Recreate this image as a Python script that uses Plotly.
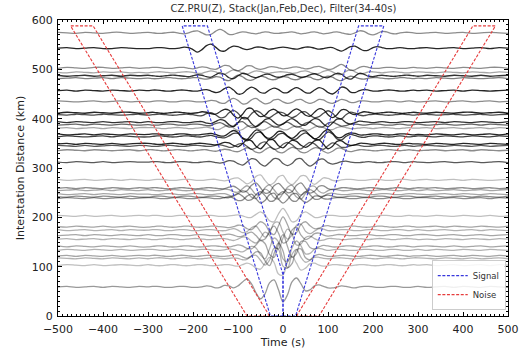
import plotly.graph_objects as go

# ---------------- data ----------------
t_left = list(range(-500, -300, 20))
t_mid = list(range(-300, 301, 10))
t_right = list(range(320, 501, 20))
times = t_left + t_mid + t_right

distances = [574, 543, 503, 494, 487, 482, 457, 435, 412, 408, 393, 388, 381, 368, 364, 349, 345, 336,
             312, 276, 259, 255, 247, 242, 239, 203, 181, 174, 164, 156, 141, 134, 122, 117, 103, 59]

w574 = [1,0,-1,1,0,-1,1,1,-1,0,
        1,0,-1,-1,0,1,1,-1,-2,0, 3,4,0,-4,-3,3,7,3,-3,-3, 0,2,1,-1,-2,0,2,1,-1,-1,
        0,
        1,2,0,-2,-1,1,2,0,-2,-1, 1,2,0,-2,-3,0,4,3,-2,-4, -1,3,2,-1,-2,0,1,1,0,-1,
        0,1,-1,0,1,-1,0,1,0,-1]
w543 = [0,1,-1,0,1,-1,-1,1,0,-1,
        -1,0,1,1,0,-1,-1,0,2,1, -3,-8,-3,5,8,2,-5,-6,0,4, 3,-1,-3,-1,2,2,0,-2,-1,1,
        2,
        1,-1,-2,0,2,2,0,-2,-1,1, 1,-3,-6,-2,3,4,-1,-5,-4,1, 3,1,-1,-1,0,1,0,-1,-1,0,
        1,-1,0,1,-1,0,1,-1,1,0]
w503 = [-1,1,0,-1,1,1,-1,0,1,-1,
        0,1,1,0,-1,-1,0,1,1,-1, -2,0,2,1,-2,-3,1,5,4,-3, -6,-2,4,4,-1,-3,-1,2,2,0,
        -2,
        -1,1,2,0,-2,-1,2,3,0,-3, -2,3,7,2,-5,-4,1,3,1,-1, -1,0,1,1,0,-1,-1,0,1,0,
        -1,1,0,-1,1,0,-1,1,1,-1]
w494 = [0,-1,1,0,-1,1,0,1,-1,0,
        -1,0,1,1,0,-1,-1,0,1,1, 0,-2,-2,1,3,1,-3,-4,1,5, 3,-2,-4,0,3,2,-1,-2,0,1,
        1,
        0,-2,-1,2,3,0,-3,-2,2,4, 1,-4,-4,2,5,1,-3,-2,1,1, 0,-1,0,1,1,0,-1,-1,0,1,
        0,-1,1,0,-1,1,0,-1,1,0]
w487 = [1,-1,0,1,-1,0,1,-1,1,0,
        1,0,-1,-1,0,1,1,0,-1,-2, 0,2,1,-2,-3,2,6,3,-4,-6, 0,5,3,-2,-4,-1,3,3,-1,-3,
        -1,
        2,3,0,-3,-2,2,4,1,-3,-4, 1,5,3,-4,-7,-1,5,3,-1,-2, 0,1,0,-1,-1,0,1,1,0,-1,
        1,0,-1,1,0,-1,1,-1,0,1]
w482 = [-1,0,1,-1,0,1,-1,1,0,-1,
        0,-1,-1,0,1,1,0,-1,-1,0, 1,1,-1,-2,0,3,2,-3,-5,1, 6,3,-3,-4,0,4,2,-2,-3,0,
        3,
        2,-2,-3,0,3,2,-2,-3,1,4, 2,-3,-5,0,4,2,-1,-2,0,1, 1,0,-1,-1,0,1,1,0,-1,0,
        -1,1,0,-1,1,0,-1,0,1,-1]
w457 = [0,1,-1,1,0,-1,1,0,-1,1,
        0,1,1,0,-1,-1,0,1,1,0, -1,-1,1,2,-1,-4,-2,4,7,1, -7,-6,2,7,3,-4,-5,1,5,2,
        -4,
        -4,2,6,2,-4,-5,1,6,3,-4, -7,-1,7,5,-3,-4,0,2,1,-1, -1,0,1,1,0,-1,-1,0,1,0,
        1,-1,0,1,-1,1,0,-1,0,1]
w435 = [1,0,-1,0,1,-1,0,1,-1,0,
        -1,0,1,1,0,-1,-1,0,1,1, 0,-1,-1,0,2,1,-3,-4,2,6, 2,-5,-4,3,6,0,-5,-3,3,4,
        -1,
        -4,-2,3,4,-1,-4,-1,4,3,-2, -4,0,4,2,-2,-2,1,1,0,-1, -1,0,1,1,0,-1,0,1,0,-1,
        0,1,-1,0,1,-1,0,1,-1,0]
w412 = [-1,1,0,-1,1,0,-1,1,1,-1,
        0,1,0,-1,-1,0,1,1,0,-1, -1,0,2,1,-2,-3,2,7,5,-5, -11,-3,8,9,-1,-8,-5,4,7,1,
        -6,
        -5,3,8,3,-5,-7,1,8,6,-4, -10,-4,6,6,-1,-4,-1,2,1,-1, -1,0,1,1,0,-1,-1,0,1,0,
        -1,1,0,-1,1,1,-1,0,1,-1]
w408 = [0,-1,1,0,-1,1,0,-1,0,1,
        -1,0,1,1,0,-1,-1,0,1,1, 0,-2,-2,2,4,0,-6,-5,4,9, 3,-7,-8,2,8,4,-4,-6,0,5,
        4,
        -2,-6,-2,5,6,-1,-6,-4,3,8, 3,-6,-8,0,5,3,-1,-2,0,1, 1,0,-1,-1,0,1,1,0,-1,0,
        1,-1,0,1,-1,0,1,-1,0,1]
w393 = [1,-1,1,0,-1,1,-1,0,1,-1,
        1,0,-1,-1,0,1,1,0,-1,-1, 0,1,1,-2,-3,1,5,3,-5,-9, -1,9,8,-3,-9,-4,5,7,0,-6,
        -4,
        3,7,2,-5,-6,1,7,5,-4,-9, -2,6,6,-1,-4,-1,2,1,0,-1, 0,1,0,-1,-1,0,1,1,0,-1,
        0,1,-1,1,0,-1,1,0,-1,1]
w388 = [-1,0,1,-1,1,0,-1,1,0,-1,
        0,-1,-1,0,1,1,0,-1,-1,0, 1,1,0,-2,-2,2,4,0,-5,-3, 4,6,-1,-6,-4,3,6,1,-5,-4,
        2,
        5,0,-5,-3,3,5,0,-5,-4,3, 5,1,-3,-2,1,1,0,-1,0,1, 1,0,-1,-1,0,1,0,-1,0,1,
        -1,0,1,-1,0,1,-1,1,0,-1]
w381 = [0,1,-1,0,1,-1,1,0,-1,1,
        1,1,0,-1,-1,0,1,1,0,-1, -1,0,1,2,0,-3,-2,3,5,0, -5,-3,3,5,0,-4,-3,2,4,1,
        -3,
        -3,2,4,0,-4,-3,2,4,1,-3, -3,1,3,1,-1,-1,0,1,0,-1, 0,1,1,0,-1,-1,0,1,0,0,
        1,-1,0,1,-1,0,1,-1,1,0]
w368 = [1,-1,0,1,-1,1,0,-1,1,0,
        0,1,1,0,-1,-1,0,1,1,0, -1,-1,0,1,2,0,-3,-3,3,8, 4,-7,-10,0,9,6,-4,-8,-2,6,
        5,
        -3,-8,-2,7,7,-2,-9,-5,5,10, 3,-6,-6,0,3,2,-1,-1,0,1, 1,0,-1,-1,0,1,1,0,-1,0,
        -1,1,0,-1,1,-1,0,1,-1,1]
w364 = [-1,1,0,-1,0,1,-1,1,0,-1,
        -1,0,1,1,0,-1,-1,0,1,1, 0,-1,-1,1,2,0,-2,-3,1,6, 6,-4,-9,-3,7,8,-1,-7,-4,4,
        6,
        0,-6,-5,3,7,2,-5,-7,1,9, 5,-5,-7,0,4,2,-1,-2,0,1, 1,0,-1,-1,0,1,0,-1,0,1,
        0,-1,1,0,-1,1,0,-1,1,0]
w349 = [0,1,-1,1,0,-1,1,-1,0,1,
        1,0,-1,-1,0,1,1,0,-1,-1, 0,1,1,0,-1,-2,0,3,2,-3, -6,0,8,6,-5,-10,-1,9,7,-4,
        -8,
        0,7,5,-3,-7,-2,6,8,-1,-10, -5,5,6,0,-3,-2,1,1,0,-1, 0,1,1,0,-1,-1,0,1,0,0,
        -1,1,0,-1,1,0,-1,1,0,-1]
w345 = [1,0,-1,1,-1,0,1,0,-1,1,
        0,-1,-1,0,1,1,0,-1,-1,0, 1,1,0,-1,-1,1,2,0,-3,-2, 3,5,-1,-7,-4,5,8,0,-7,-5,
        3,
        7,2,-5,-6,1,7,4,-4,-7,0, 6,3,-3,-3,0,2,1,-1,-1,0, 1,1,0,-1,-1,0,1,0,-1,0,
        1,0,-1,1,0,-1,1,-1,0,1]
w336 = [-1,1,0,-1,1,0,-1,0,1,-1,
        1,1,0,-1,-1,0,1,1,0,-1, -1,0,1,1,-1,-2,0,2,1,-2, -3,1,5,2,-4,-5,1,6,3,-4,
        -5,
        1,6,3,-4,-5,0,5,4,-2,-6, -2,4,4,-1,-3,-1,1,1,0,-1, -1,0,1,1,0,-1,0,1,0,-1,
        0,1,-1,0,1,-1,1,0,-1,0]
w312 = [0,-1,1,0,-1,1,-1,0,1,0,
        0,1,1,0,-1,-1,0,1,1,0, -1,-1,0,1,1,-1,-2,0,3,2, -3,-6,0,7,5,-4,-8,-1,7,6,
        -3,
        -7,-3,6,7,-2,-8,-3,5,6,-1, -4,-2,1,2,0,-1,-1,0,1,0, -1,-1,0,1,1,0,-1,0,1,0,
        -1,0,1,-1,0,1,-1,0,1,-1]
w276 = [1,-1,0,1,-1,0,1,-1,1,0,
        -1,0,1,1,0,-1,-1,0,1,1, 0,-1,-1,0,1,1,-1,-2,0,3, 4,-2,-8,-4,7,10,-1,-10,-6,6,
        9,
        -4,-10,-2,8,8,-3,-9,-3,4,3, -1,-2,0,1,1,0,-1,-1,0,1, 1,0,-1,-1,0,1,1,0,-1,0,
        1,-1,0,1,-1,1,0,-1,0,1]
w259 = [0,1,-1,1,0,-1,1,0,-1,1,
        0,1,1,0,-1,-1,0,1,1,0, -1,-1,0,1,1,0,-1,-1,2,4, -1,-8,-5,6,11,1,-10,-8,5,10,
        1,
        -9,-7,6,11,0,-10,-6,4,5,-1, -3,-1,1,1,0,-1,-1,0,1,1, 0,-1,-1,0,1,1,0,-1,0,1,
        0,1,-1,0,1,-1,0,1,-1,0]
w255 = [-1,0,1,-1,0,1,-1,1,0,-1,
        1,0,-1,-1,0,1,1,0,-1,-1, 0,1,1,0,-1,-1,0,2,1,-3, -4,3,9,2,-9,-8,5,11,1,-9,
        -6,
        6,10,-2,-10,-4,7,8,-2,-6,-1, 2,1,-1,-1,0,1,1,0,-1,-1, 0,1,1,0,-1,-1,0,1,0,-1,
        1,-1,0,1,-1,0,1,-1,0,1]
w247 = [1,-1,0,1,-1,1,0,-1,1,0,
        0,-1,-1,0,1,1,0,-1,-1,0, 1,1,0,-1,-1,0,1,1,-2,-4, 1,7,4,-6,-9,2,10,5,-7,-10,
        1,
        10,6,-6,-10,1,9,4,-4,-4,1, 2,0,-1,-1,0,1,1,0,-1,-1, 0,1,1,0,-1,-1,0,1,1,0,
        -1,0,1,-1,1,0,-1,1,0,-1]
w242 = [0,-1,1,0,-1,1,0,-1,1,-1,
        -1,0,1,1,0,-1,-1,0,1,1, 0,-1,-1,0,1,1,0,-2,-2,2, 6,1,-7,-6,4,10,2,-9,-8,4,
        10,
        3,-8,-9,2,10,4,-5,-5,1,3, 1,-1,-1,0,1,1,0,-1,-1,0, 1,1,0,-1,-1,0,1,1,0,-1,
        0,1,-1,0,1,-1,1,0,-1,1]
w239 = [-1,1,0,-1,1,-1,0,1,-1,0,
        1,1,0,-1,-1,0,1,1,0,-1, -1,0,1,1,0,-1,-1,1,3,0, -5,-4,4,8,-1,-10,-5,7,10,-2,
        -10,
        -3,8,9,-2,-9,-4,4,4,-1,-2, 0,1,1,0,-1,-1,0,1,1,0, -1,-1,0,1,1,0,-1,-1,0,1,
        1,-1,0,1,-1,0,1,-1,1,0]
w203 = [1,0,-1,1,-1,0,1,-1,0,1,
        0,1,1,0,-1,-1,0,1,1,0, -1,-1,0,1,1,0,-1,-1,0,1, 2,0,-3,-3,3,8,2,-10,-12,4,
        15,
        3,-12,-10,3,8,3,-3,-3,0,1, 1,0,-1,-1,0,1,1,0,-1,-1, 0,1,1,0,-1,-1,0,1,0,0,
        -1,1,0,-1,1,0,-1,1,-1,0]
w181 = [0,-1,1,0,-1,1,-1,0,1,-1,
        -1,0,1,1,0,-1,-1,0,1,1, 0,-1,-1,0,1,1,0,-1,-2,0, 3,2,-4,-6,2,10,5,-10,-16,2,
        20,
        4,-15,-12,5,10,2,-4,-3,1,2, 0,-1,-1,0,1,1,0,-1,-1,0, 1,1,0,-1,-1,0,1,1,0,-1,
        0,1,-1,1,0,-1,1,0,-1,1]
w174 = [1,-1,0,1,-1,0,1,-1,1,0,
        0,1,1,0,-1,-1,0,1,1,0, -1,-1,0,1,1,0,-1,-1,1,3, 0,-5,-3,5,8,-3,-14,-6,14,16,
        -4,
        -18,-10,10,12,-2,-7,-2,3,2,-1, -1,0,1,1,0,-1,-1,0,1,1, 0,-1,-1,0,1,1,0,-1,0,1,
        -1,0,1,-1,0,1,-1,1,0,-1]
w164 = [-1,0,1,-1,1,0,-1,1,0,-1,
        1,0,-1,-1,0,1,1,0,-1,-1, 0,1,1,0,-1,-1,0,1,2,0, -3,-2,3,6,-1,-10,-8,8,18,4,
        -16,
        -12,10,16,0,-9,-5,3,4,0,-2, -1,1,1,0,-1,-1,0,1,1,0, -1,-1,0,1,1,0,-1,-1,0,1,
        1,-1,0,1,-1,0,1,-1,0,1]
w156 = [0,1,-1,0,1,-1,1,0,-1,1,
        0,-1,-1,0,1,1,0,-1,-1,0, 1,1,0,-1,-1,0,1,1,-1,-3, 0,4,3,-4,-8,2,14,8,-14,-20,
        2,
        20,10,-12,-10,3,6,1,-3,-2,1, 1,0,-1,-1,0,1,1,0,-1,0, 1,1,0,-1,-1,0,1,1,0,-1,
        0,-1,1,0,-1,1,0,-1,1,0]
w141 = [1,-1,1,0,-1,1,0,-1,1,-1,
        -1,0,1,1,0,-1,-1,0,1,1, 0,-1,-1,0,1,1,0,-1,-1,1, 3,1,-4,-5,3,12,6,-16,-22,4,
        24,
        0,-22,-14,10,10,-2,-5,-1,2,1, -1,-1,0,1,1,0,-1,-1,0,1, 1,0,-1,-1,0,1,1,0,-1,0,
        1,0,-1,1,-1,0,1,-1,0,1]
w134 = [-1,1,0,-1,1,0,-1,1,-1,0,
        1,1,0,-1,-1,0,1,1,0,-1, -1,0,1,1,0,-1,-1,0,2,1, -2,-4,1,7,4,-10,-18,2,24,16,
        -18,
        -24,4,18,8,-8,-7,1,3,1,-1, 0,1,1,0,-1,-1,0,1,1,0, -1,-1,0,1,1,0,-1,-1,0,1,
        -1,1,0,-1,1,0,-1,1,0,-1]
w122 = [0,1,-1,1,0,-1,1,-1,0,1,
        0,1,1,0,-1,-1,0,1,1,0, -1,-1,0,1,1,0,-1,-1,0,2, 2,-2,-5,0,8,6,-10,-20,4,26,
        10,
        -24,-16,12,14,-4,-8,0,3,1,-1, -1,0,1,1,0,-1,-1,0,1,1, 0,-1,-1,0,1,1,0,-1,0,0,
        1,-1,0,1,-1,1,0,-1,1,0]
w117 = [1,0,-1,1,0,-1,1,0,-1,1,
        -1,0,1,1,0,-1,-1,0,1,1, 0,-1,-1,0,1,1,0,-1,0,1, 0,-3,-2,4,6,-4,-14,-4,20,18,
        -16,
        -20,8,18,2,-8,-4,2,2,0,-1, 0,1,1,0,-1,-1,0,1,0,-1, -1,0,1,1,0,-1,-1,0,1,1,
        0,-1,1,0,-1,1,-1,0,1,-1]
w103 = [-1,1,0,-1,1,-1,0,1,0,-1,
        1,0,-1,-1,0,1,1,0,-1,-1, 0,1,1,0,-1,-1,0,1,1,-1, -2,1,4,1,-6,-8,4,16,6,-18,
        -20,
        6,18,4,-10,-6,3,4,0,-2,-1, 1,1,0,-1,-1,0,1,1,0,-1, -1,0,1,1,0,-1,-1,0,1,0,
        1,-1,0,1,-1,0,1,-1,1,0]
w59 = [0,1,-1,0,1,-1,1,0,-1,1,
       0,1,1,0,-1,-1,0,1,1,0, -1,-1,0,2,1,-2,-1,3,2,-2, 2,10,16,6,-12,-24,-14,8,14,-6,
       -30,
       -16,10,18,6,-8,-6,2,4,1,-2, -2,0,2,1,-1,-2,0,1,1,0, -1,-1,0,1,1,0,-1,-1,0,1,
       -1,0,1,-1,1,0,-1,1,0,-1]

waveforms = [w574, w543, w503, w494, w487, w482, w457, w435, w412, w408, w393, w388, w381, w368,
             w364, w349, w345, w336, w312, w276, w259, w255, w247, w242, w239, w203, w181, w174,
             w164, w156, w141, w134, w122, w117, w103, w59]

# window parameters
win_top = 588          # km, top of the window polygons
sig_vel = 3.0          # km/s, signal group velocity
sig_half = 28          # s, half width of the signal window
noise_vel = 1.5        # km/s
noise_start = 30       # s, noise window start offset
noise_end = 80         # s, noise window end offset

# ---------------- styles ----------------
trace_alpha = [0.45, 0.85, 0.45, 0.35, 0.8, 0.5, 0.85, 0.45, 0.85, 0.7, 0.8, 0.6, 0.35, 0.85,
               0.75, 0.85, 0.65, 0.45, 0.65, 0.25, 0.45, 0.35, 0.35, 0.45, 0.45, 0.25, 0.35, 0.3,
               0.35, 0.3, 0.35, 0.3, 0.35, 0.3, 0.25, 0.4]

fig = go.Figure()

for d, w, a in zip(distances, waveforms, trace_alpha):
    if len(w) != len(times):
        raise ValueError(f"trace {d}: {len(w)} values")
    fig.add_trace(go.Scatter(
        x=times, y=[d + v for v in w], mode="lines",
        line=dict(color=f"rgba(0,0,0,{a})", width=1.3, shape="spline", smoothing=1.0),
        showlegend=False, hoverinfo="skip"))

# signal windows
kink = sig_vel * sig_half
sig_in = [0, 0, win_top / sig_vel - sig_half]
sig_d_in = [0, kink, win_top]
sig_out_top = win_top / sig_vel + sig_half
for side in (1, -1):
    xs = [side * v for v in sig_in] + [side * sig_out_top, side * sig_half, 0]
    ys = sig_d_in + [win_top, 0, 0]
    fig.add_trace(go.Scatter(
        x=xs, y=ys, mode="lines", name="Signal", legendgroup="sig", showlegend=(side == 1),
        line=dict(color="rgb(55,55,220)", width=1.1, dash="3px,1.6px"), hoverinfo="skip"))

for side in (1, -1):
    xs = [side * noise_start, side * (win_top / noise_vel + noise_start),
          side * (win_top / noise_vel + noise_end), side * noise_end, side * noise_start]
    ys = [0, win_top, win_top, 0, 0]
    fig.add_trace(go.Scatter(
        x=xs, y=ys, mode="lines", name="Noise", legendgroup="noise", showlegend=(side == 1),
        line=dict(color="rgb(230,60,60)", width=1.1, dash="3px,1.6px"), hoverinfo="skip"))

axis_common = dict(showline=True, linecolor="black", linewidth=1, mirror="allticks",
                   ticks="inside", ticklen=4, tickcolor="black", showgrid=False, zeroline=False,
                   automargin=False, tickfont=dict(size=11, color="#222"),
                   minor=dict(ticks="inside", ticklen=2, tickcolor="black", dtick=10, showgrid=False))

fig.update_layout(
    width=520, height=355,
    margin=dict(l=58, r=12, t=20, b=39),
    paper_bgcolor="white", plot_bgcolor="white",
    font=dict(family="DejaVu Sans", size=11, color="#222"),
    title=dict(text="CZ.PRU(Z), Stack(Jan,Feb,Dec), Filter(34-40s)", x=0.545, xanchor="center",
               y=0.985, yanchor="top", font=dict(size=10, color="#333")),
    xaxis=dict(range=[-500, 500], dtick=100, tick0=-500, ticklabelstandoff=3,
               title=dict(text="Time (s)", font=dict(size=11), standoff=2), **axis_common),
    yaxis=dict(range=[0, 600], dtick=100, ticklabelstandoff=2,
               title=dict(text="Interstation Distance (km)", font=dict(size=11), standoff=4),
               **axis_common),
    legend=dict(x=0.995, y=0.02, xanchor="right", yanchor="bottom",
                bgcolor="rgba(255,255,255,0.85)", bordercolor="#ccc", borderwidth=1,
                font=dict(size=8.5, color="#333"), tracegroupgap=0, itemwidth=30),
)

fig.write_html("out.html", config={"displayModeBar": False},
               post_script="document.body.style.margin='0px';")
